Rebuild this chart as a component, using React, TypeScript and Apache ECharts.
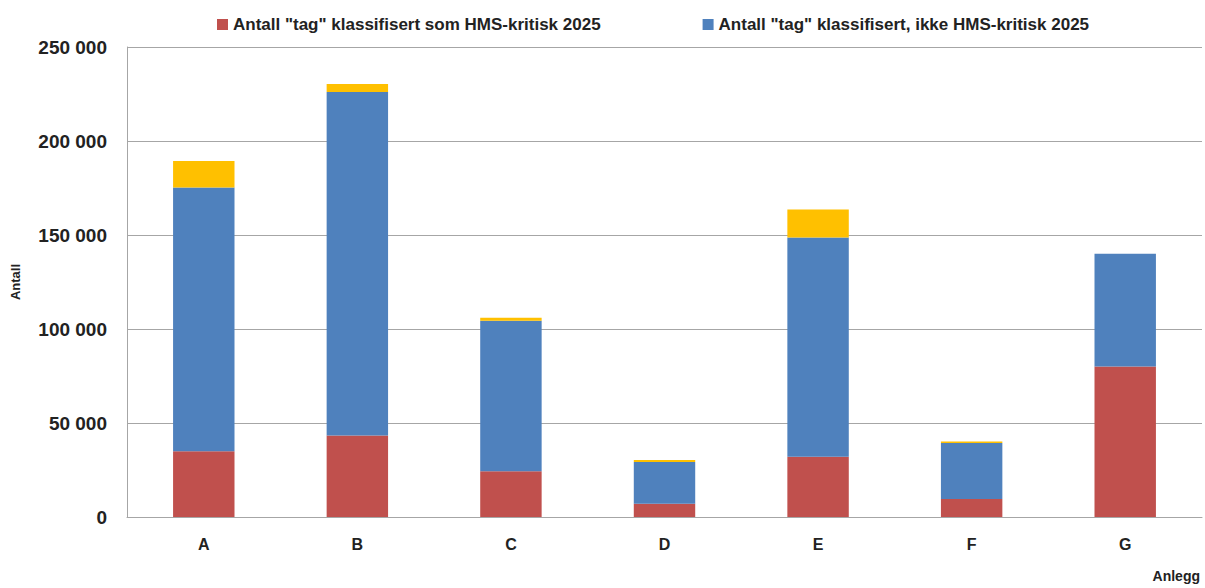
import React, { useEffect, useRef } from "react";
import * as echarts from "echarts";

const categories = ["A", "B", "C", "D", "E", "F", "G"];
const hmsCritical = [35000, 43400, 24300, 7000, 32000, 9600, 80000];
const notHmsCritical = [140300, 182700, 80100, 22300, 116700, 29800, 60000];
const unclassified = [14100, 4200, 1600, 1000, 14900, 800, 0];
const seriesNames = [
  'Antall "tag" klassifisert som HMS-kritisk 2025',
  'Antall "tag" klassifisert, ikke HMS-kritisk 2025',
  "Ikke klassifisert",
];
const yTicks = [0, 50000, 100000, 150000, 200000, 250000];

const FONT = "'Liberation Sans', Arial, sans-serif";

export default function App() {
  const ref = useRef<HTMLDivElement>(null);
  useEffect(() => {
    document.body.style.margin = "0";
    const chart = echarts.init(ref.current!, null, { renderer: "svg" });
    const fmt = (v: number) =>
      String(v).replace(/\B(?=(\d{3})+(?!\d))/g, " ");
    chart.setOption({
      animation: false,
      textStyle: { fontFamily: FONT },
      legend: {
        data: [seriesNames[0], seriesNames[1]],
        top: 11,
        left: 212,
        itemWidth: 11,
        itemHeight: 11,
        itemGap: 102,
        icon: "rect",
        textStyle: { fontSize: 17, fontWeight: "bold", color: "#222", fontFamily: FONT },
      },
      grid: { left: 127, right: 3, top: 47, bottom: 71 },
      xAxis: {
        type: "category",
        data: categories,
        axisLine: { lineStyle: { color: "#a6a6a6", width: 1 } },
        axisTick: { show: false },
        axisLabel: { fontSize: 16, fontWeight: "bold", color: "#222", margin: 19 },
      },
      yAxis: {
        type: "value",
        min: yTicks[0],
        max: yTicks[yTicks.length - 1],
        interval: yTicks[1] - yTicks[0],
        name: "Antall",
        nameLocation: "middle",
        nameRotate: 90,
        nameGap: 105,
        nameTextStyle: { fontSize: 13, fontWeight: "bold", color: "#222" },
        axisLine: { show: true, lineStyle: { color: "#a6a6a6", width: 1 } },
        axisTick: { show: false },
        splitLine: { lineStyle: { color: "#a6a6a6", width: 1 } },
        axisLabel: {
          fontSize: 19,
          fontWeight: "bold",
          color: "#222",
          margin: 20,
          formatter: (v: number) => fmt(v),
        },
      },
      graphic: [
        {
          type: "text",
          right: 5,
          top: 569,
          style: { text: "Anlegg", font: `bold 14px ${FONT}`, fill: "#222" },
        },
      ],
      series: [
        { name: seriesNames[0], type: "bar", stack: "s", barWidth: "40%", data: hmsCritical, itemStyle: { color: "#C0504D" } },
        { name: seriesNames[1], type: "bar", stack: "s", barWidth: "40%", data: notHmsCritical, itemStyle: { color: "#4F81BD" } },
        { name: seriesNames[2], type: "bar", stack: "s", barWidth: "40%", data: unclassified, itemStyle: { color: "#FFC000" } },
      ],
    });
    return () => chart.dispose();
  }, []);
  return <div ref={ref} style={{ width: 1205, height: 588 }} />;
}
